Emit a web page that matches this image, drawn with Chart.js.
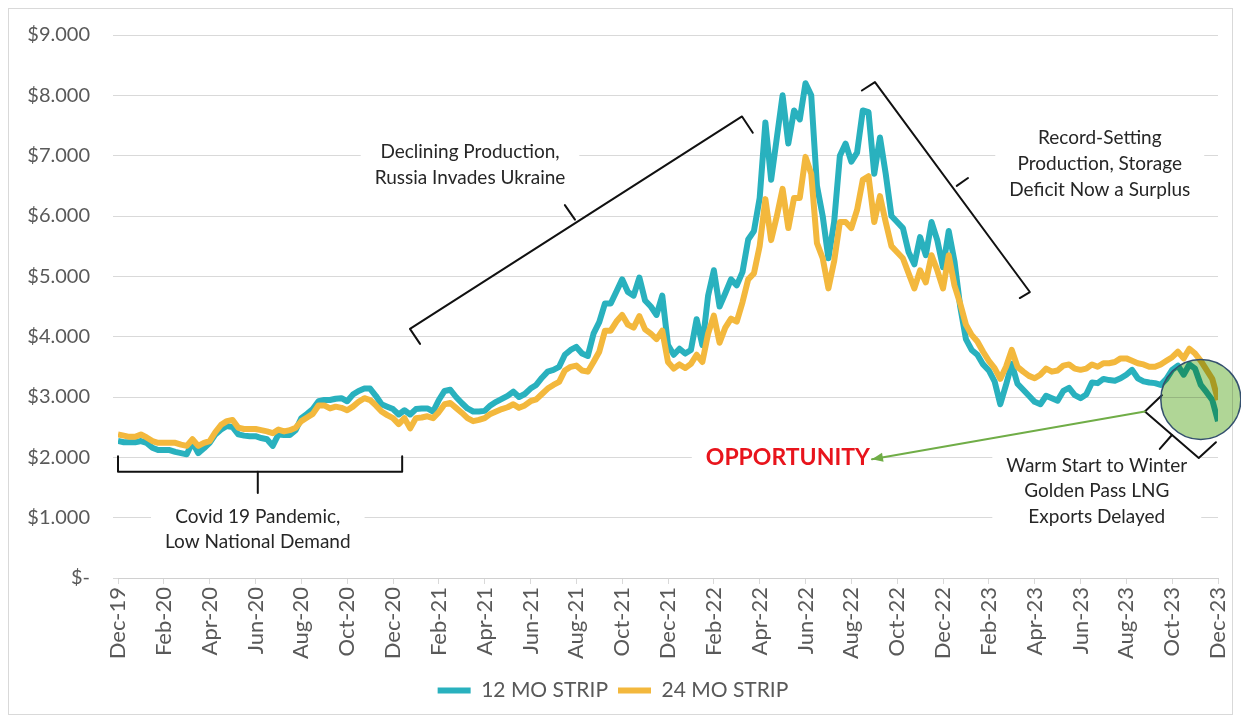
<!DOCTYPE html>
<html>
<head>
<meta charset="utf-8">
<title>12 MO / 24 MO Strip</title>
<script src="https://cdn.jsdelivr.net/npm/chart.js@4.4.1/dist/chart.umd.min.js"></script>
<style>
  html, body { margin: 0; padding: 0; background: #fff; }
  canvas { display: block; }
</style>
</head>
<body>
<canvas id="stripChart" width="1241" height="723"></canvas>
<script>
// x runs in months from Dec-19 (0) to Dec-23 (48), one reading every quarter month
const monthsPerPoint = 0.25;

const xTickLabels = ['Dec-19', 'Feb-20', 'Apr-20', 'Jun-20', 'Aug-20', 'Oct-20', 'Dec-20',
  'Feb-21', 'Apr-21', 'Jun-21', 'Aug-21', 'Oct-21', 'Dec-21', 'Feb-22', 'Apr-22', 'Jun-22',
  'Aug-22', 'Oct-22', 'Dec-22', 'Feb-23', 'Apr-23', 'Jun-23', 'Aug-23', 'Oct-23', 'Dec-23'];

const yTickLabels = ['$-', '$1.000', '$2.000', '$3.000', '$4.000', '$5.000',
  '$6.000', '$7.000', '$8.000', '$9.000'];

const seriesNames = ['12 MO STRIP', '24 MO STRIP'];

const strip12 = [
  2.27, 2.25, 2.25, 2.25, 2.27, 2.24, 2.16, 2.12, 2.12, 2.12,
  2.09, 2.07, 2.05, 2.25, 2.07, 2.15, 2.24, 2.38, 2.46, 2.52,
  2.50, 2.38, 2.36, 2.35, 2.35, 2.32, 2.30, 2.19, 2.38, 2.37,
  2.37, 2.45, 2.65, 2.72, 2.80, 2.93, 2.95, 2.95, 2.97, 2.98,
  2.93, 3.04, 3.10, 3.14, 3.14, 3.02, 2.88, 2.84, 2.80, 2.71,
  2.78, 2.71, 2.80, 2.81, 2.81, 2.76, 2.95, 3.10, 3.12, 3.00,
  2.90, 2.81, 2.76, 2.76, 2.77, 2.86, 2.92, 2.97, 3.02, 3.09,
  3.00, 3.05, 3.14, 3.20, 3.32, 3.42, 3.45, 3.50, 3.70, 3.78,
  3.83, 3.72, 3.68, 4.05, 4.24, 4.55, 4.55, 4.75, 4.95, 4.74,
  4.68, 4.98, 4.60, 4.50, 4.36, 4.68, 3.86, 3.70, 3.80, 3.72,
  3.78, 4.29, 3.86, 4.68, 5.10, 4.50, 4.72, 4.95, 4.85, 5.07,
  5.61, 5.75, 6.30, 7.55, 6.60, 7.30, 8.00, 7.20, 7.75, 7.60,
  8.20, 8.00, 6.50, 6.00, 5.30, 5.90, 7.00, 7.20, 6.90, 7.05,
  7.75, 7.72, 6.70, 7.30, 6.70, 6.00, 5.90, 5.80, 5.40, 5.20,
  5.65, 5.35, 5.90, 5.60, 5.15, 5.75, 5.25, 4.50, 3.96, 3.78,
  3.70, 3.54, 3.44, 3.26, 2.88, 3.20, 3.55, 3.22, 3.12, 3.02,
  2.92, 2.88, 3.02, 2.98, 2.94, 3.10, 3.15, 3.03, 2.98, 3.04,
  3.24, 3.23, 3.30, 3.28, 3.27, 3.31, 3.37, 3.45, 3.31, 3.26,
  3.24, 3.23, 3.20, 3.30, 3.45, 3.52, 3.37, 3.54, 3.47, 3.20,
  3.08, 2.95, 2.60
];

const strip24 = [
  2.38, 2.36, 2.34, 2.34, 2.38, 2.33, 2.27, 2.24, 2.24, 2.24,
  2.24, 2.21, 2.19, 2.30, 2.19, 2.24, 2.27, 2.42, 2.54, 2.60,
  2.62, 2.49, 2.47, 2.47, 2.47, 2.45, 2.43, 2.40, 2.46, 2.43,
  2.45, 2.49, 2.60, 2.66, 2.72, 2.86, 2.86, 2.81, 2.84, 2.82,
  2.78, 2.84, 2.92, 2.98, 2.95, 2.86, 2.76, 2.70, 2.65, 2.55,
  2.65, 2.48, 2.65, 2.66, 2.68, 2.65, 2.75, 2.88, 2.90, 2.82,
  2.74, 2.65, 2.60, 2.62, 2.65, 2.72, 2.76, 2.80, 2.83, 2.88,
  2.82, 2.86, 2.93, 2.96, 3.05, 3.14, 3.20, 3.25, 3.44, 3.50,
  3.52, 3.44, 3.42, 3.58, 3.75, 4.10, 4.10, 4.25, 4.36, 4.20,
  4.15, 4.34, 4.12, 4.05, 3.96, 4.10, 3.58, 3.47, 3.54, 3.48,
  3.55, 3.70, 3.58, 4.05, 4.35, 3.90, 4.15, 4.30, 4.25, 4.57,
  4.95, 5.05, 5.50, 6.28, 5.60, 6.00, 6.45, 5.80, 6.30, 6.30,
  6.98, 6.70, 5.55, 5.30, 4.80, 5.25, 5.90, 5.90, 5.80, 6.10,
  6.60, 6.66, 5.90, 6.33, 5.90, 5.50, 5.40, 5.30, 5.05, 4.80,
  5.10, 4.90, 5.35, 5.10, 4.80, 5.35, 4.85, 4.55, 4.20, 4.03,
  3.92, 3.75, 3.60, 3.48, 3.30, 3.50, 3.78, 3.50, 3.42, 3.35,
  3.31, 3.37, 3.47, 3.42, 3.44, 3.52, 3.54, 3.47, 3.45, 3.47,
  3.54, 3.50, 3.56, 3.56, 3.58, 3.64, 3.64, 3.60, 3.56, 3.54,
  3.50, 3.50, 3.54, 3.60, 3.66, 3.75, 3.64, 3.80, 3.72, 3.60,
  3.45, 3.30, 2.95
];

const covidNote = ['Covid 19 Pandemic,', 'Low National Demand'];
const declineNote = ['Declining Production,', 'Russia Invades Ukraine'];
const recordNote = ['Record-Setting', 'Production, Storage', 'Deficit Now a Surplus'];
const winterNote = ['Warm Start to Winter', 'Golden Pass LNG', 'Exports Delayed'];
const callout = 'OPPORTUNITY';

const TEAL = '#29b1be';
const GOLD = '#f3b83d';

function toPoints(values) {
  return values.map((v, i) => ({ x: i * monthsPerPoint, y: v }));
}

// brackets, notes, arrow and circle, placed in axis units
const notesPlugin = {
  id: 'notes',
  beforeDraw(chart) {
    const { ctx } = chart;
    ctx.save();
    ctx.fillStyle = '#fff';
    ctx.fillRect(0, 0, chart.width, chart.height);
    ctx.strokeStyle = '#d9d9d9';
    ctx.lineWidth = 1;
    ctx.strokeRect(8.5, 8.5, chart.width - 17, chart.height - 17);
    ctx.restore();
  },
  afterDatasetsDraw(chart) {
    const { ctx } = chart;
    const xs = chart.scales.x, ys = chart.scales.y;
    const px = m => xs.getPixelForValue(m);
    const py = v => ys.getPixelForValue(v);

    const path = pts => {
      ctx.beginPath();
      pts.forEach(([m, v], k) => k ? ctx.lineTo(px(m), py(v)) : ctx.moveTo(px(m), py(v)));
      ctx.stroke();
    };

    const block = (lines, m, v, font, color, lh) => {
      const cx = px(m), top = py(v);
      ctx.font = font;
      const w = Math.max(...lines.map(l => ctx.measureText(l).width));
      ctx.fillStyle = '#fff';
      ctx.fillRect(cx - w / 2 - 14, top - lh / 2 - 3, w + 28, lines.length * lh + 6);
      ctx.fillStyle = color;
      ctx.textAlign = 'center';
      ctx.textBaseline = 'middle';
      lines.forEach((l, k) => ctx.fillText(l, cx, top + k * lh));
    };

    ctx.save();
    const noteFont = '19px Lato';
    block(covidNote, 6.1, 1.02, noteFont, '#262626', 25);
    block(declineNote, 15.36, 7.06, noteFont, '#262626', 26);
    block(recordNote, 42.84, 7.29, noteFont, '#262626', 26);
    block(winterNote, 42.71, 1.86, noteFont, '#262626', 25.5);
    block([callout], 29.23, 1.99, 'bold 23px Lato', '#e8141c', 26);

    ctx.strokeStyle = '#111';
    ctx.lineWidth = 2;
    ctx.lineJoin = 'round';
    ctx.lineCap = 'round';
    // Covid bracket
    path([[0, 2.02], [0, 1.76], [12.4, 1.76], [12.4, 2.02]]);
    path([[6.1, 1.76], [6.1, 1.41]]);
    // Declining production bracket
    path([[13.18, 3.88], [12.74, 4.13], [27.23, 7.65], [27.7, 7.38]]);
    path([[19.94, 5.94], [19.5, 6.18]]);
    // Record-setting bracket
    path([[32.46, 8.08], [33.03, 8.22], [39.79, 4.74], [39.35, 4.64]]);
    path([[36.6, 6.5], [37.09, 6.63]]);
    // Warm start bracket
    path([[45.55, 3.03], [44.81, 2.76], [47.16, 1.99], [47.91, 2.25]]);
    path([[45.99, 2.37], [45.46, 2.14]]);

    // green arrow toward OPPORTUNITY
    const ax0 = px(44.81), ay0 = py(2.76), ax1 = px(32.9), ay1 = py(1.97);
    ctx.strokeStyle = '#70ad47';
    ctx.fillStyle = '#70ad47';
    ctx.lineWidth = 2;
    ctx.beginPath();
    ctx.moveTo(ax0, ay0);
    ctx.lineTo(ax1, ay1);
    ctx.stroke();
    const ang = Math.atan2(ay1 - ay0, ax1 - ax0);
    ctx.beginPath();
    ctx.moveTo(ax1, ay1);
    ctx.lineTo(ax1 - 11 * Math.cos(ang) + 4.5 * Math.sin(ang), ay1 - 11 * Math.sin(ang) - 4.5 * Math.cos(ang));
    ctx.lineTo(ax1 - 11 * Math.cos(ang) - 4.5 * Math.sin(ang), ay1 - 11 * Math.sin(ang) + 4.5 * Math.cos(ang));
    ctx.closePath();
    ctx.fill();

    // highlight circle over the last weeks
    ctx.beginPath();
    ctx.arc(px(47.25), py(2.96), 40, 0, Math.PI * 2);
    ctx.globalCompositeOperation = 'multiply';
    ctx.fillStyle = 'rgb(176, 214, 150)';
    ctx.fill();
    ctx.globalCompositeOperation = 'source-over';
    ctx.strokeStyle = '#34506e';
    ctx.lineWidth = 1.5;
    ctx.stroke();
    ctx.restore();
  }
};

Chart.defaults.font.family = 'Lato';
Chart.defaults.color = '#595959';

new Chart(document.getElementById('stripChart'), {
  type: 'line',
  data: {
    datasets: [
      {
        label: seriesNames[0],
        data: toPoints(strip12),
        borderColor: TEAL,
        backgroundColor: TEAL,
        borderWidth: 6,
        order: 2
      },
      {
        label: seriesNames[1],
        data: toPoints(strip24),
        borderColor: GOLD,
        backgroundColor: GOLD,
        borderWidth: 6,
        order: 1
      }
    ]
  },
  options: {
    responsive: false,
    animation: false,
    layout: { padding: { top: 31, right: 23, left: 8, bottom: 12 } },
    elements: {
      point: { radius: 0, hoverRadius: 0 },
      line: { tension: 0, borderJoinStyle: 'round', fill: false }
    },
    scales: {
      x: {
        type: 'linear',
        min: 0,
        max: 48,
        afterFit(scale) {
          scale.height = 92;
          scale.paddingLeft = 0;
          scale.paddingRight = 0;
        },
        grid: { drawOnChartArea: false, drawTicks: true, tickLength: 6, color: '#d9d9d9' },
        border: { color: '#d0d0d0' },
        ticks: {
          stepSize: 2,
          autoSkip: false,
          minRotation: 90,
          maxRotation: 90,
          padding: 3,
          font: { size: 22 },
          callback: v => xTickLabels[v / 2]
        }
      },
      y: {
        min: 0,
        max: 9,
        afterFit(scale) { scale.width = 110; },
        grid: { color: '#d9d9d9', tickLength: 5 },
        border: { display: false },
        ticks: {
          stepSize: 1,
          padding: 23,
          font: { size: 20 },
          callback: v => yTickLabels[v]
        }
      }
    },
    plugins: {
      tooltip: { enabled: false },
      legend: {
        position: 'bottom',
        labels: {
          boxWidth: 33,
          boxHeight: 6,
          padding: 10,
          font: { size: 21 },
          color: '#595959',
          sort: (a, b) => a.datasetIndex - b.datasetIndex,
          generateLabels(chart) {
            const items = Chart.defaults.plugins.legend.labels.generateLabels(chart);
            items.forEach(it => { it.lineWidth = 0; it.fillStyle = it.strokeStyle; });
            return items;
          }
        }
      }
    }
  },
  plugins: [notesPlugin]
});
</script>
</body>
</html>
